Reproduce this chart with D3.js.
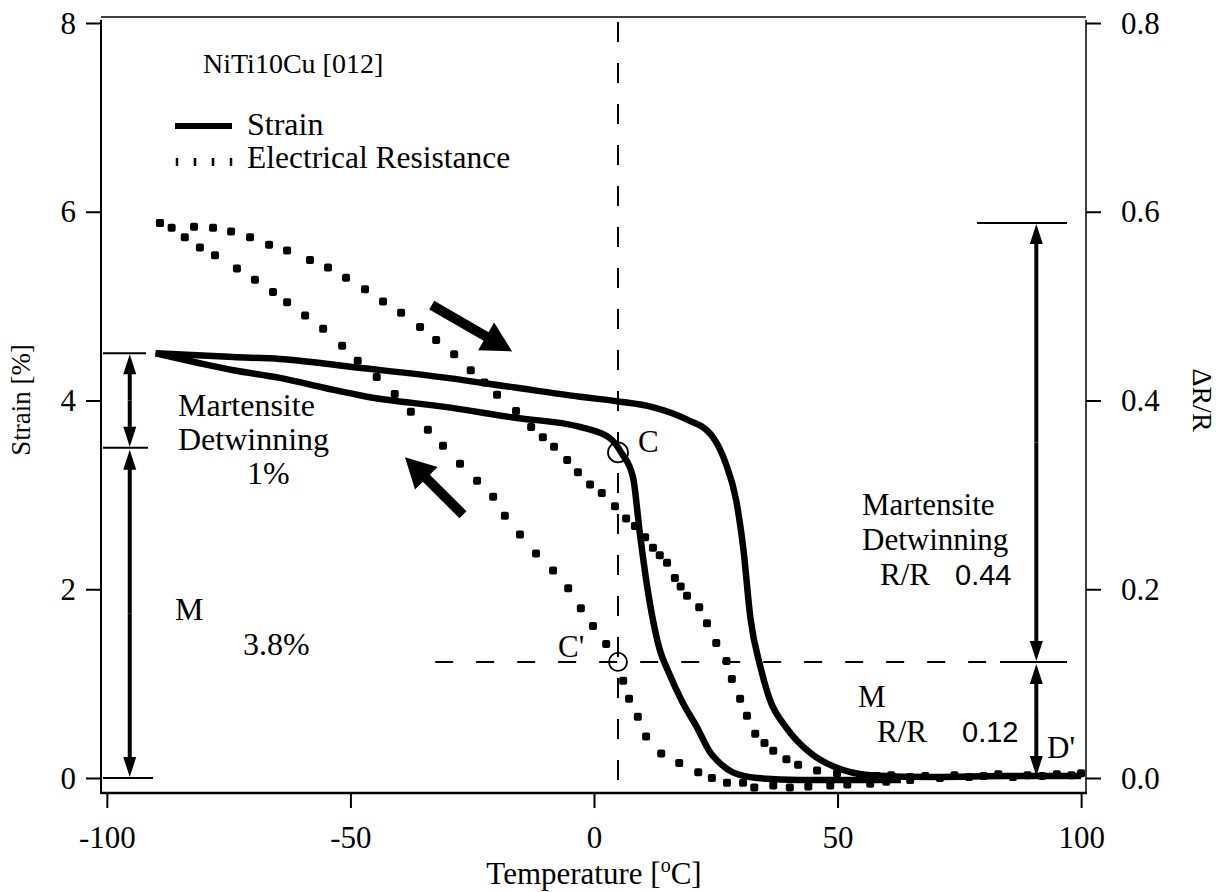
<!DOCTYPE html>
<html><head><meta charset="utf-8">
<script src="https://cdn.jsdelivr.net/npm/d3@7/dist/d3.min.js"></script>
<style>
body{margin:0;background:#fff;}
svg text{font-family:"Liberation Serif","Times New Roman",serif;fill:#000;}
</style></head>
<body>
<svg id="c" width="1225" height="892"></svg>
<script>
// ---------- data ----------
const xTicks = [-100, -50, 0, 50, 100];
const xTickLabels = ["-100", "-50", "0", "50", "100"];
const yTicks = [0, 2, 4, 6, 8];
const yTickLabels = ["0", "2", "4", "6", "8"];
const yRTicks = [0, 0.2, 0.4, 0.6, 0.8];
const yRTickLabels = ["0.0", "0.2", "0.4", "0.6", "0.8"];

// Strain, heating branch (upper)
const strainHeatT = [-90,-74,-64.5,-48.7,-30.2,-16.6,-2.9,5,12,19,24,27,29.2,30.7,32.1,34.2,36.1,39.4,44.3,49.7,56.7,70,85,100];
const strainHeatS = [4.50,4.46,4.44,4.35,4.24,4.14,4.04,3.99,3.93,3.80,3.64,3.34,2.94,2.41,1.70,1.17,0.83,0.54,0.27,0.11,0.03,0.01,0.02,0.02];
// Strain, cooling branch (lower)
const strainCoolT = [-90,-81.4,-74,-64.5,-55,-46.6,-30.2,-16.6,-2.9,3.3,5.7,8,9.4,10.8,13.5,15.5,18,21,24,26,28.5,33.5,42,63];
const strainCoolS = [4.50,4.40,4.32,4.24,4.13,4.04,3.93,3.82,3.72,3.60,3.44,3.19,2.60,2.07,1.36,1.10,0.82,0.55,0.26,0.15,0.06,0.00,-0.02,-0.02];

// Electrical resistance, heating branch (outer)
const erHeatT = [-89.1,-82.1,-78.2,-74.5,-70.6,-66.7,-63.0,-58.3,-54.6,-50.9,-47.0,-43.3,-39.6,-35.7,-32.4,-28.7,-25.3,-22.5,-19.9,-16.0,-12.9,-10.5,-8.2,-5.5,-3.3,-0.8,1.6,4.3,6.6,8.4,10.5,12.1,13.5,15.0,16.6,17.8,19.1,21.6,23.2,25.1,27.2,28.3,30.0,31.4,33.1,35.0,36.8,39.5,41.9,45.8,49.9,54.6,58,61,64.9,68,71,74,77,80,83,86,89,92,95,98,100];
const erHeatR = [0.588,0.584,0.583,0.579,0.573,0.565,0.559,0.549,0.541,0.530,0.518,0.505,0.493,0.478,0.464,0.449,0.432,0.419,0.406,0.389,0.372,0.361,0.351,0.337,0.324,0.311,0.302,0.288,0.275,0.267,0.255,0.244,0.236,0.228,0.212,0.203,0.193,0.181,0.164,0.143,0.124,0.105,0.084,0.066,0.047,0.037,0.029,0.020,0.014,0.008,0.005,0.003,0.002,0.003,0.001,0.002,0.000,0.003,0.001,0.002,0.004,0.001,0.003,0.002,0.004,0.003,0.005];
// Electrical resistance, cooling branch (inner)
const erCoolT = [-89.1,-86.7,-84.0,-80.9,-77.8,-73.3,-69.6,-65.9,-63.0,-59.3,-55.6,-51.7,-48.5,-44.6,-40.9,-37.6,-34.1,-31.0,-27.5,-24.0,-20.7,-18.3,-15.2,-11.9,-8.4,-5.3,-2.7,-0.2,2.5,6.0,7.2,9.0,10.7,13.8,17.5,21.4,24.2,27.3,30.6,32.9,36.8,40.2,44,48.5,52,56.7,60,64.9];
const erCoolR = [0.588,0.583,0.573,0.562,0.554,0.540,0.528,0.515,0.504,0.490,0.476,0.458,0.442,0.425,0.407,0.388,0.369,0.352,0.333,0.315,0.298,0.278,0.258,0.238,0.220,0.201,0.180,0.161,0.142,0.103,0.084,0.065,0.044,0.026,0.016,0.006,0.000,-0.005,-0.005,-0.010,-0.008,-0.010,-0.009,-0.008,-0.007,-0.006,-0.004,-0.002];

// ---------- layout ----------
const FONT = "'Liberation Serif', 'Times New Roman', serif";
const svg = d3.select("#c");
const L = 101, R = 1086, T = 17, B = 793;
const x = d3.scaleLinear().domain([-101.2, 101]).range([L, R]);
const y = d3.scaleLinear().domain([0, 8]).range([778, 23]);
const yR = d3.scaleLinear().domain([0, 0.8]).range([778, 23]);

// frame
svg.append("line").attr("x1",L).attr("x2",L).attr("y1",T+3).attr("y2",B+1).attr("stroke","#000").attr("stroke-width",2);
svg.append("line").attr("x1",L).attr("x2",R+1).attr("y1",B).attr("y2",B).attr("stroke","#000").attr("stroke-width",2.5);
svg.append("line").attr("x1",R).attr("x2",R).attr("y1",T+3).attr("y2",B).attr("stroke","#000").attr("stroke-width",1.5);
svg.append("line").attr("x1",L).attr("x2",R).attr("y1",T).attr("y2",T).attr("stroke","#000").attr("stroke-width",1.5);

// axes
const ax = svg.append("g").attr("transform",`translate(0,${B})`)
  .call(d3.axisBottom(x).tickValues(xTicks).tickSize(15).tickSizeOuter(0).tickFormat((d,i)=>xTickLabels[i]));
ax.select(".domain").remove();
ax.selectAll("line").attr("stroke-width",2);
ax.selectAll("text").attr("y",55).attr("dy",0).attr("font-family",FONT).attr("font-size",31).style("font-family",FONT);

const ayl = svg.append("g").attr("transform",`translate(${L},0)`)
  .call(d3.axisLeft(y).tickValues(yTicks).tickSize(15).tickSizeOuter(0).tickPadding(10).tickFormat((d,i)=>yTickLabels[i]));
ayl.select(".domain").remove();
ayl.selectAll("line").attr("stroke-width",2);
ayl.selectAll("text").attr("dy","0.33em").attr("font-size",31).style("font-family",FONT);

const ayr = svg.append("g").attr("transform",`translate(${R},0)`)
  .call(d3.axisRight(yR).tickValues(yRTicks).tickSize(15).tickSizeOuter(0).tickPadding(20).tickFormat((d,i)=>yRTickLabels[i]));
ayr.select(".domain").remove();
ayr.selectAll("line").attr("stroke-width",2);
ayr.selectAll("text").attr("dy","0.33em").attr("font-size",31).style("font-family",FONT);

// axis titles
svg.append("text").attr("transform","translate(30,400) rotate(-90)").attr("text-anchor","middle")
  .style("font-size","27px").style("font-family",FONT).text("Strain [%]");
svg.append("text").attr("transform","translate(1193,400) rotate(90)").attr("text-anchor","middle")
  .style("font-size","28px").style("font-family",FONT).text("ΔR/R");
const xl = svg.append("text").attr("x",594).attr("y",884).attr("text-anchor","middle").style("font-size","31px").style("font-family",FONT);
xl.append("tspan").text("Temperature [");
xl.append("tspan").attr("dy",-12).style("font-size","20px").text("o");
xl.append("tspan").attr("dy",12).text("C]");

// dashed guide lines
svg.append("line").attr("x1",x(4.93)).attr("x2",x(4.93)).attr("y1",22).attr("y2",786)
  .attr("stroke","#000").attr("stroke-width",2).attr("stroke-dasharray","20,21");
svg.append("line").attr("x1",x(-32.6)).attr("x2",x(96.7)).attr("y1",yR(0.123)).attr("y2",yR(0.123))
  .attr("stroke","#000").attr("stroke-width",2).attr("stroke-dasharray","18,23");

// strain lines
const line = d3.line().x(d=>x(d[0])).y(d=>y(d[1])).curve(d3.curveMonotoneX);
svg.append("path").datum(strainHeatT.map((t,i)=>[t,strainHeatS[i]])).attr("d",line)
  .attr("fill","none").attr("stroke","#000").attr("stroke-width",6.5).attr("stroke-linejoin","round");
svg.append("path").datum(strainCoolT.map((t,i)=>[t,strainCoolS[i]])).attr("d",line)
  .attr("fill","none").attr("stroke","#000").attr("stroke-width",6.5).attr("stroke-linejoin","round");

// ER markers
function markers(ts, rs){
  svg.append("g").selectAll("rect").data(ts.map((t,i)=>[t,rs[i]])).join("rect")
    .attr("x",d=>x(d[0])-4).attr("y",d=>yR(d[1])-4).attr("width",8).attr("height",8).attr("rx",2)
    .attr("fill","#000");
}
markers(erHeatT, erHeatR);
markers(erCoolT, erCoolR);

// circles
svg.append("circle").attr("cx",x(4.93)).attr("cy",y(3.45)).attr("r",10).attr("fill","none").attr("stroke","#000").attr("stroke-width",1.8);
svg.append("circle").attr("cx",x(4.93)).attr("cy",yR(0.123)).attr("r",9).attr("fill","none").attr("stroke","#000").attr("stroke-width",1.8);

// arrows
function arrow(x1,y1,x2,y2,w,hl,hw){
  const a = Math.atan2(y2-y1,x2-x1), c=Math.cos(a), s=Math.sin(a);
  const bx = x2 - hl*c, by = y2 - hl*s;
  svg.append("line").attr("x1",x1).attr("y1",y1).attr("x2",bx+c).attr("y2",by+s)
    .attr("stroke","#000").attr("stroke-width",w);
  svg.append("path").attr("d",`M${x2},${y2}L${bx - hw/2*s},${by + hw/2*c}L${bx + hw/2*s},${by - hw/2*c}Z`).attr("fill","#000");
}
arrow(x(-33.3),y(5.01),x(-16.8),y(4.52),10,30,32);
arrow(x(-26.9),y(2.79),x(-38.8),y(3.40),10,30,32);

// left dimension arrows
const lx = x(-95.3);
svg.append("line").attr("x1",103).attr("x2",146).attr("y1",y(4.5)).attr("y2",y(4.5)).attr("stroke","#000").attr("stroke-width",2);
svg.append("line").attr("x1",103).attr("x2",148).attr("y1",y(3.5)).attr("y2",y(3.5)).attr("stroke","#000").attr("stroke-width",2);
svg.append("line").attr("x1",103).attr("x2",153).attr("y1",y(0)).attr("y2",y(0)).attr("stroke","#000").attr("stroke-width",2);
function dbl(xx,ya,yb){
  const m=(ya+yb)/2;
  arrow(xx,m,xx,ya,4,20,13);
  arrow(xx,m,xx,yb,4,20,13);
}
dbl(lx,y(4.5)+1,y(3.5)-1);
dbl(lx,y(3.5)+2,y(0)-1);

// right dimension arrows
const rx = x(90.8);
svg.append("line").attr("x1",977).attr("x2",1067).attr("y1",yR(0.588)).attr("y2",yR(0.588)).attr("stroke","#000").attr("stroke-width",2);
svg.append("line").attr("x1",1000).attr("x2",1067).attr("y1",yR(0.123)).attr("y2",yR(0.123)).attr("stroke","#000").attr("stroke-width",2);
dbl(rx,yR(0.588)+1,yR(0.123)-1);
dbl(rx,yR(0.123)+2,yR(0)-2);

// legend
svg.append("line").attr("x1",175).attr("x2",232).attr("y1",126).attr("y2",126).attr("stroke","#000").attr("stroke-width",6);
[177,195,213,231].forEach(px=>svg.append("line").attr("x1",px).attr("x2",px).attr("y1",158).attr("y2",166).attr("stroke","#000").attr("stroke-width",2.5));
function txt(s,px,py,size,fam){
  return svg.append("text").attr("x",px).attr("y",py).style("font-size",(size||32)+"px")
    .style("font-family",fam||FONT).text(s);
}
txt("NiTi10Cu [012]",203,73,28);
txt("Strain",247,135,32);
txt("Electrical Resistance",247,168,31.5);

// annotations
txt("Martensite",178,416,32);
txt("Detwinning",178,450,32);
txt("1%",247,484,32);
txt("M",175,620,32);
txt("3.8%",243,655,32);
txt("Martensite",862,515,31);
txt("Detwinning",862,550,31);
txt("R/R",880,585,31);
txt("0.44",955,585,29,"'Liberation Sans', Arial, sans-serif");
txt("M",858,707,31);
txt("R/R",877,742,31);
txt("0.12",962,742,29,"'Liberation Sans', Arial, sans-serif");
txt("C",638,452,31);
txt("C'",558,657,31);
txt("D'",1047,758,31);
</script>
</body></html>
